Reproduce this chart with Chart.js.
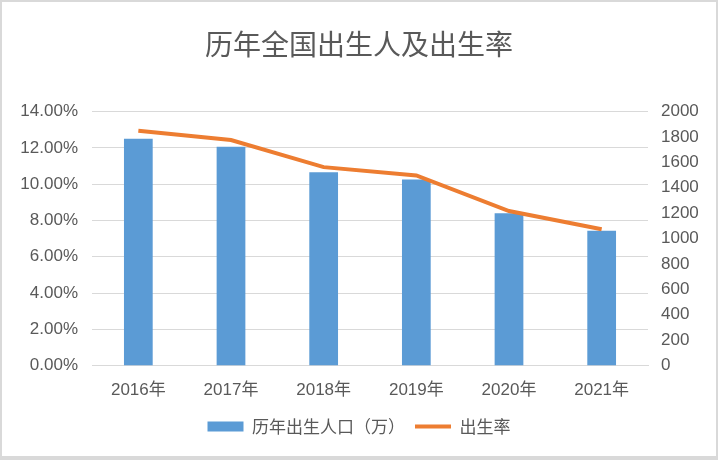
<!DOCTYPE html>
<html lang="zh">
<head>
  <meta charset="UTF-8">
  <title>历年全国出生人及出生率</title>
  <script src="https://cdn.jsdelivr.net/npm/chart.js"></script>
  <style>
    * { box-sizing: border-box; }
    html, body { margin: 0; padding: 0; background: #fff; }
    .frame {
      width: 718px;
      height: 460px;
      border: 2px solid #d9d9d9;
      border-bottom-width: 4px;
      background: #fff;
    }
    .frame canvas { display: block; }
  </style>
</head>
<body>
  <div class="frame">
    <canvas id="birthChart" width="714" height="454"></canvas>
  </div>

  <script>
    // 数据
    const years = ["2016年", "2017年", "2018年", "2019年", "2020年", "2021年"];
    const births = [1786, 1723, 1523, 1465, 1200, 1062];         // 万人
    const birthRate = [12.95, 12.43, 10.94, 10.48, 8.52, 7.52];  // 显示为 %
    const leftTicks = [0, 2, 4, 6, 8, 10, 12, 14];
    const rightTicks = [0, 200, 400, 600, 800, 1000, 1200, 1400, 1600, 1800, 2000];

    const textColor = '#595959';
    const gridColor = '#d9d9d9';
    const numFont = "'Liberation Sans', 'Noto Sans CJK SC', Arial, sans-serif";
    const cjkFont = "'Noto Sans CJK SC', 'Liberation Sans', sans-serif";

    Chart.defaults.font.family = numFont;
    Chart.defaults.color = textColor;

    new Chart(document.getElementById('birthChart'), {
      data: {
        labels: years,
        datasets: [
          {
            type: 'bar',
            label: '历年出生人口（万）',
            data: births,
            yAxisID: 'yRight',
            backgroundColor: '#5b9bd5',
            borderWidth: 0,
            barPercentage: 0.31,
            categoryPercentage: 1,
            pointStyle: 'rect',
            order: 1
          },
          {
            type: 'line',
            label: '出生率',
            data: birthRate,
            yAxisID: 'yLeft',
            borderColor: '#ed7d31',
            backgroundColor: '#ed7d31',
            borderWidth: 4,
            pointRadius: 0,
            tension: 0,
            pointStyle: 'line',
            order: 0
          }
        ]
      },
      options: {
        responsive: false,
        animation: false,
        layout: { padding: { left: 0, right: 0, top: 0, bottom: 11 } },
        plugins: {
          title: {
            display: true,
            text: '历年全国出生人及出生率',
            color: textColor,
            font: { family: cjkFont, size: 28, weight: 'normal' },
            padding: { top: 26, bottom: 50 }
          },
          legend: {
            position: 'bottom',
            labels: {
              usePointStyle: true,
              pointStyleWidth: 36,
              boxWidth: 36,
              boxHeight: 10,
              padding: 10,
              color: textColor,
              font: { family: cjkFont, size: 17 },
              sort: (a, b) => a.datasetIndex - b.datasetIndex
            }
          },
          tooltip: { enabled: false }
        },
        scales: {
          x: {
            grid: { display: false },
            border: { color: gridColor },
            ticks: { font: { size: 17 }, color: textColor, padding: 7 }
          },
          yLeft: {
            position: 'left',
            min: 0,
            max: 14,
            afterBuildTicks: axis => { axis.ticks = leftTicks.map(v => ({ value: v })); },
            afterFit: axis => { axis.width = 90; },
            grid: { color: gridColor, drawTicks: false },
            border: { display: false },
            ticks: {
              font: { size: 17 },
              color: textColor,
              padding: 14,
              callback: v => v.toFixed(2) + '%'
            }
          },
          yRight: {
            position: 'right',
            min: 0,
            max: 2000,
            afterBuildTicks: axis => { axis.ticks = rightTicks.map(v => ({ value: v })); },
            afterFit: axis => { axis.width = 68; },
            grid: { display: false, drawTicks: false },
            border: { display: false },
            ticks: { font: { size: 17 }, color: textColor, padding: 13, callback: v => String(v) }
          }
        }
      }
    });
  </script>
</body>
</html>
